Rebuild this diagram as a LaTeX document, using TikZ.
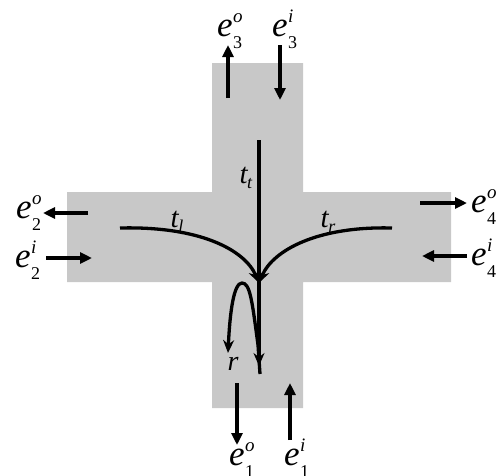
\documentclass[tikz,border=0pt]{standalone}
\usepackage{fontspec}
\setmainfont{Liberation Serif}
\usetikzlibrary{arrows.meta}
\definecolor{crossgray}{RGB}{200,200,200}
\newcommand\elab[2]{\fontsize{35}{38}\selectfont\textit{e}\kern0.5pt\rlap{\raisebox{14pt}{\fontsize{19}{19}\selectfont\textit{#1}}}\raisebox{-12pt}{\fontsize{18}{18}\selectfont #2}}
\newcommand\tlab[1]{\fontsize{29}{31}\selectfont\textit{t}\kern-1pt\raisebox{-5pt}{\fontsize{18}{18}\selectfont\textit{#1}}}
\begin{document}
\begin{tikzpicture}[x=1pt,y=-1pt,
  ioarrow/.style={line width=4pt,-{Triangle[length=12pt,width=11pt]}},
  flow/.style={line width=3.3pt,-{Stealth[length=13pt,width=11pt]}},
  lab/.style={inner sep=0pt,anchor=base west},
  tl/.style={inner sep=0pt,anchor=base}]
\useasboundingbox (0,0) rectangle (497,475);
% cross
\fill[crossgray] (212,63) -- (303,63) -- (303,192) -- (451,192) -- (451,282)
  -- (303,282) -- (303,408) -- (212,408) -- (212,282) -- (67,282) -- (67,192)
  -- (212,192) -- cycle;
% labels
\node[lab] (e3o) at (217,36) {\elab{o}{3}};
\node[lab] (e3i) at (272,36) {\elab{i}{3}};
\node[lab] (e2o) at (16,218) {\elab{o}{2}};
\node[lab] (e2i) at (15,267) {\elab{i}{2}};
\node[lab] (e4o) at (471,212) {\elab{o}{4}};
\node[lab] (e4i) at (471,265) {\elab{i}{4}};
\node[lab] (e1o) at (229,465) {\elab{o}{1}};
\node[lab] (e1i) at (284,465) {\elab{i}{1}};
\node[tl] (tt) at (246,183) {\tlab{t}};
\node[tl] (tl) at (177,227) {\tlab{l}};
\node[tl] (tr) at (328,227) {\tlab{r}};
\node[tl] (rl) at (233,370) {\fontsize{28}{30}\selectfont\textit{r}};
% arrow end points
\coordinate (a3oS) at (228,98);  \coordinate (a3oE) at (228,45);
\coordinate (a3iS) at (280,45);  \coordinate (a3iE) at (280,100);
\coordinate (a2oS) at (88,213);  \coordinate (a2oE) at (43,213);
\coordinate (a2iS) at (46,258);  \coordinate (a2iE) at (92,258);
\coordinate (a4oS) at (420,203); \coordinate (a4oE) at (467,203);
\coordinate (a4iS) at (467,256); \coordinate (a4iE) at (422,256);
\coordinate (a1oS) at (237,383); \coordinate (a1oE) at (237,445);
\coordinate (a1iS) at (290,440); \coordinate (a1iE) at (290,383);
\draw[ioarrow] (a3oS) -- (a3oE);
\draw[ioarrow] (a3iS) -- (a3iE);
\draw[ioarrow] (a2oS) -- (a2oE);
\draw[ioarrow] (a2iS) -- (a2iE);
\draw[ioarrow] (a4oS) -- (a4oE);
\draw[ioarrow] (a4iS) -- (a4iE);
\draw[ioarrow] (a1oS) -- (a1oE);
\draw[ioarrow] (a1iS) -- (a1iE);
% flows
\coordinate (ttS) at (259,140); \coordinate (ttE) at (259,366);
\coordinate (tlS) at (120,228); \coordinate (trS) at (392,228);
\coordinate (meet) at (259,283);
\coordinate (rS) at (260,374); \coordinate (rM) at (258,345);
\coordinate (rTop) at (242,283); \coordinate (rE) at (228,353);
\draw[flow] (ttS) -- (ttE);
\draw[flow] (tlS) .. controls (200,226) and (245,250) .. (meet);
\draw[flow] (trS) .. controls (318,226) and (273,250) .. (meet);
\draw[flow] (rS) -- (rM) .. controls (252,300) and (250,283) .. (rTop)
  .. controls (234,283) and (230,310) .. (rE);
\end{tikzpicture}
\end{document}
